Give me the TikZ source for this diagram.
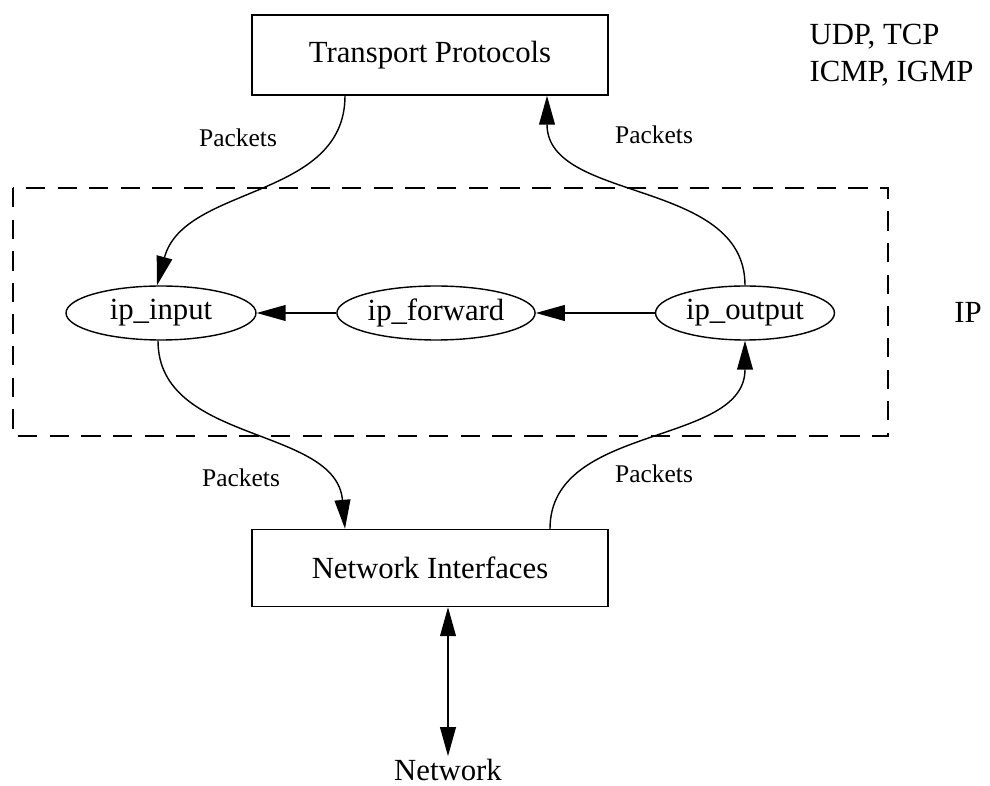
\documentclass[tikz,border=0pt]{standalone}
\usepackage{fontspec}
\setmainfont{Liberation Serif}
\usetikzlibrary{shapes.geometric,arrows.meta}

\tikzset{
  layer/.style={draw, minimum width=7.12cm, minimum height=1.6cm, font=\fontsize{17.5}{21}\selectfont},
  func/.style={draw, ellipse, minimum height=1.08cm, inner sep=1pt, font=\fontsize{17.5}{21}\selectfont},
  lbl/.style={font=\fontsize{17.5}{21}\selectfont},
  pkt/.style={font=\fontsize{14.5}{17}\selectfont},
  tip/.tip={Triangle[length=16.5pt,width=9pt]},
  flow/.style={-tip},
}

\begin{document}
\begin{tikzpicture}[x=0.02cm, y=-0.02cm, line width=0.8pt]
      \useasboundingbox (0,0) rectangle (990,786);

      \node[layer] (tp) at (430,55) {Transport Protocols};
      \node[layer, minimum height=1.54cm] (ni) at (430,568) {Network Interfaces};

      \node[func, minimum width=3.8cm] (in) at (161,313) {ip\_input};
      \node[func, minimum width=3.12cm] (fwd) at (436,313) {ip\_forward};
      \node[func, minimum width=3.58cm] (out) at (745,313) {ip\_output};

      \draw[dash pattern=on 11pt off 7pt] (13,188) rectangle (888,436);

      \node[lbl, align=left, anchor=west] (proto) at (803,55) {UDP, TCP\\ICMP, IGMP};
      \node[lbl] (ip) at (968,312) {IP};
      \node[lbl] (net) at (448,770) {Network};

      \draw[flow] (tp.south -| 345,0) to[out=-90, in=75] (in.north -| 157,0);
      \draw[flow] (out.north) to[out=90, in=-90] (tp.south -| 547,0);
      \draw[flow] (in.south -| 158,0) to[out=-90, in=95] (ni.north -| 345,0);
      \draw[flow] (ni.north -| 550,0) to[out=90, in=-90] (out.south);

      \draw[flow] (out) -- (fwd);
      \draw[flow] (fwd) -- (in);
      \draw[tip-tip] (ni.south -| net) -- ([yshift=-2pt]net.north);

      \node[pkt] (p1) at (238,138) {Packets};
      \node[pkt] (p2) at (654,135) {Packets};
      \node[pkt] (p3) at (241,478) {Packets};
      \node[pkt] (p4) at (654,474) {Packets};
    \end{tikzpicture}
\end{document}
